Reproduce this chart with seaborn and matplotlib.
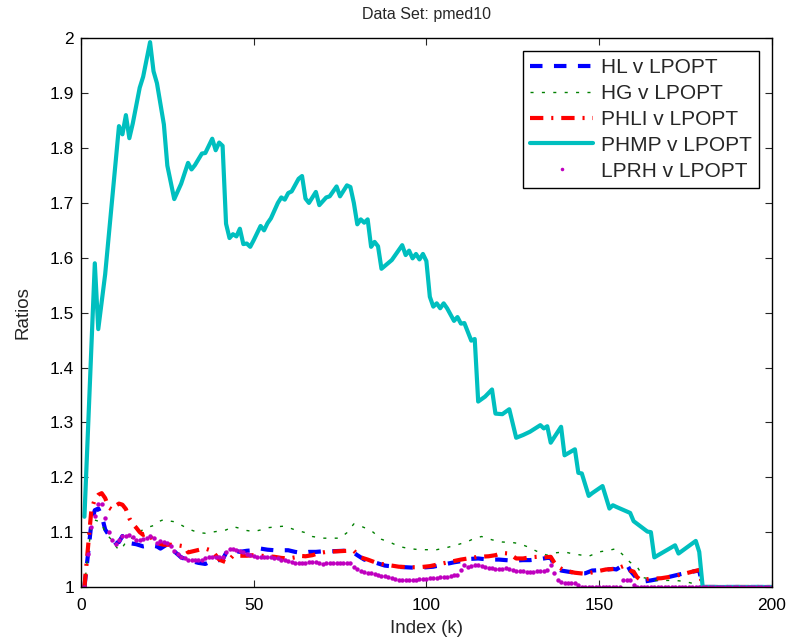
import numpy as np
import pandas as pd
import matplotlib
matplotlib.use("Agg")
import matplotlib.pyplot as plt
import seaborn as sns

# ---- series data (index k -> ratio) ----
hl_k = [1, 2, 3, 4, 5, 6, 7, 8, 9, 10, 11, 12, 13, 14, 16, 18, 20, 22, 23, 25, 27, 29, 31, 34, 36,
        38, 40, 41, 42, 44, 46, 48, 50, 52, 54, 56, 60, 62, 64, 66, 68, 70, 72, 76, 78, 80, 82, 85,
        88, 91, 94, 97, 100, 102, 105, 108, 110, 112, 115, 118, 121, 123, 125, 128, 130, 133, 135,
        136, 137, 139, 141, 144, 146, 148, 151, 154, 155, 157, 158, 159, 161, 163, 165, 170, 174,
        177, 179, 180, 200]
hl_r = [1.0, 1.058, 1.116, 1.14, 1.143, 1.13, 1.105, 1.095, 1.088, 1.08, 1.082, 1.093, 1.085, 1.08,
        1.078, 1.074, 1.076, 1.074, 1.070, 1.078, 1.065, 1.054, 1.049, 1.044, 1.042, 1.048, 1.049,
        1.05, 1.062, 1.067, 1.064, 1.066, 1.067, 1.070, 1.068, 1.067, 1.067, 1.064, 1.062, 1.064,
        1.064, 1.065, 1.065, 1.066, 1.067, 1.058, 1.050, 1.045, 1.039, 1.037, 1.036, 1.035, 1.036,
        1.037, 1.041, 1.045, 1.047, 1.051, 1.052, 1.050, 1.050, 1.049, 1.048, 1.049, 1.049, 1.051,
        1.053, 1.053, 1.040, 1.030, 1.028, 1.025, 1.025, 1.030, 1.031, 1.033, 1.032, 1.040, 1.042,
        1.030, 1.015, 1.010, 1.012, 1.018, 1.024, 1.028, 1.030, 1.0, 1.0]

hg_k = [1, 2, 3, 4, 5, 6, 7, 8, 9, 10, 11, 12, 13, 14, 15, 16, 17, 18, 20, 21, 22, 24, 26, 27, 29,
        31, 34, 36, 39, 42, 44, 46, 48, 50, 52, 54, 57, 59, 62, 65, 67, 70, 73, 75, 77, 79, 81, 84,
        87, 90, 92, 95, 98, 103, 106, 109, 112, 114, 116, 119, 122, 125, 127, 129, 132, 134, 135,
        137, 140, 142, 145, 147, 150, 153, 155, 157, 159, 161, 163, 166, 170, 172, 175, 178, 180, 200]
hg_r = [1.0, 1.06, 1.11, 1.122, 1.12, 1.115, 1.10, 1.092, 1.085, 1.075, 1.067, 1.072, 1.082, 1.088,
        1.09, 1.095, 1.10, 1.105, 1.110, 1.112, 1.118, 1.123, 1.12, 1.119, 1.113, 1.106, 1.099,
        1.098, 1.101, 1.104, 1.110, 1.107, 1.103, 1.101, 1.104, 1.108, 1.110, 1.111, 1.104, 1.099,
        1.092, 1.089, 1.089, 1.089, 1.099, 1.115, 1.111, 1.103, 1.087, 1.080, 1.074, 1.070, 1.068,
        1.068, 1.072, 1.077, 1.083, 1.089, 1.092, 1.086, 1.082, 1.081, 1.079, 1.074, 1.065, 1.060,
        1.058, 1.062, 1.064, 1.061, 1.058, 1.056, 1.064, 1.067, 1.070, 1.058, 1.045, 1.037, 1.017,
        1.012, 1.012, 1.012, 1.010, 1.005, 1.0, 1.0]

phli_k = [1, 2, 3, 4, 5, 6, 7, 8, 9, 10, 11, 12, 13, 14, 15, 16, 17, 18, 19, 20, 21, 22, 24, 26,
          28, 30, 31, 33, 35, 36, 38, 40, 42, 43, 44, 46, 48, 50, 52, 54, 56, 58, 60, 62, 63, 65,
          67, 69, 71, 74, 77, 79, 81, 83, 86, 89, 92, 95, 98, 101, 104, 107, 110, 112, 115, 118,
          120, 122, 124, 126, 128, 130, 132, 134, 136, 137, 138, 140, 143, 146, 149, 152, 155, 157,
          159, 160, 161, 162, 165, 168, 171, 174, 177, 179, 180, 200]
phli_r = [1.0, 1.07, 1.14, 1.16, 1.168, 1.171, 1.162, 1.145, 1.141, 1.148, 1.152, 1.150, 1.142,
          1.125, 1.115, 1.108, 1.10, 1.095, 1.097, 1.093, 1.085, 1.080, 1.077, 1.077, 1.076, 1.074,
          1.063, 1.066, 1.069, 1.07, 1.066, 1.05, 1.045, 1.05, 1.057, 1.057, 1.057, 1.058, 1.057,
          1.056, 1.055, 1.053, 1.052, 1.054, 1.057, 1.056, 1.058, 1.062, 1.064, 1.065, 1.066, 1.066,
          1.054, 1.050, 1.043, 1.040, 1.037, 1.036, 1.036, 1.038, 1.042, 1.046, 1.050, 1.052, 1.055,
          1.056, 1.058, 1.062, 1.061, 1.052, 1.052, 1.054, 1.055, 1.054, 1.055, 1.045, 1.037, 1.030,
          1.026, 1.024, 1.028, 1.032, 1.033, 1.038, 1.030, 1.028, 1.018, 1.013, 1.015, 1.016, 1.019,
          1.023, 1.028, 1.031, 1.0, 1.0]

phmp_k = [1, 4, 5, 7, 11, 12, 13, 14, 15, 17, 18, 20, 21, 22, 24, 25, 27, 29, 31, 32, 33, 35, 36,
          38, 39, 40, 41, 42, 43, 44, 45, 46, 47, 48, 49, 50, 52, 53, 54, 55, 57, 58, 59, 60, 61,
          63, 64, 65, 66, 68, 69, 71, 72, 74, 75, 77, 78, 79, 80, 81, 82, 83, 84, 85, 86, 87, 90,
          93, 94, 95, 96, 97, 98, 99, 100, 101, 102, 103, 104, 105, 106, 108, 109, 110, 111, 113,
          114, 115, 117, 119, 120, 122, 124, 126, 128, 130, 133, 134, 135, 136, 139, 140, 143, 144,
          145, 147, 148, 151, 153, 154, 155, 159, 160, 164, 165, 166, 172, 173, 178, 179, 180, 200]
phmp_r = [1.128, 1.59, 1.47, 1.57, 1.84, 1.825, 1.86, 1.818, 1.845, 1.91, 1.93, 1.993, 1.94, 1.918,
          1.843, 1.768, 1.707, 1.735, 1.773, 1.761, 1.769, 1.790, 1.791, 1.817, 1.796, 1.810, 1.804,
          1.662, 1.636, 1.643, 1.639, 1.653, 1.625, 1.626, 1.620, 1.632, 1.658, 1.650, 1.663, 1.672,
          1.700, 1.710, 1.706, 1.718, 1.721, 1.744, 1.749, 1.708, 1.700, 1.720, 1.696, 1.710, 1.712,
          1.730, 1.712, 1.732, 1.729, 1.700, 1.661, 1.670, 1.664, 1.670, 1.620, 1.629, 1.621, 1.580,
          1.596, 1.623, 1.605, 1.613, 1.599, 1.607, 1.597, 1.607, 1.594, 1.529, 1.511, 1.517, 1.508,
          1.517, 1.508, 1.485, 1.492, 1.480, 1.481, 1.449, 1.452, 1.338, 1.347, 1.360, 1.316, 1.315,
          1.324, 1.272, 1.277, 1.283, 1.295, 1.289, 1.293, 1.263, 1.292, 1.240, 1.251, 1.208, 1.207,
          1.166, 1.171, 1.184, 1.143, 1.149, 1.146, 1.135, 1.120, 1.101, 1.100, 1.054, 1.076, 1.061,
          1.084, 1.064, 1.0, 1.0]

# LPRH is shown as a marker at every index k = 1..200
lprh_r = [
    1.0, 1.06, 1.11, 1.13, 1.152, 1.152, 1.125, 1.10, 1.085, 1.078,
    1.085, 1.093, 1.093, 1.095, 1.092, 1.086, 1.085, 1.087, 1.089, 1.093,
    1.090, 1.081, 1.083, 1.082, 1.081, 1.074, 1.066, 1.060, 1.055, 1.052,
    1.050, 1.049, 1.049, 1.049, 1.050, 1.052, 1.054, 1.054, 1.054, 1.055,
    1.055, 1.063, 1.069, 1.070, 1.068, 1.066, 1.063, 1.060, 1.058, 1.057,
    1.055, 1.054, 1.054, 1.054, 1.054, 1.053, 1.052, 1.050, 1.049, 1.047,
    1.045, 1.043, 1.043, 1.044, 1.044, 1.045, 1.046, 1.046, 1.044, 1.042,
    1.043, 1.043, 1.043, 1.043, 1.043, 1.043, 1.043, 1.043, 1.036, 1.032,
    1.030, 1.028, 1.025, 1.025, 1.024, 1.022, 1.020, 1.020, 1.018, 1.016,
    1.014, 1.013, 1.013, 1.012, 1.012, 1.013, 1.013, 1.014, 1.014, 1.015,
    1.016, 1.016, 1.017, 1.018, 1.019, 1.019, 1.020, 1.021, 1.022, 1.031,
    1.040, 1.037, 1.039, 1.040, 1.040, 1.038, 1.036, 1.035, 1.034, 1.033,
    1.032, 1.033, 1.034, 1.032, 1.031, 1.030, 1.030, 1.029, 1.028, 1.028,
    1.028, 1.029, 1.030, 1.030, 1.031, 1.040, 1.025, 1.013, 1.010, 1.008,
    1.008, 1.007, 1.007, 1.003, 1.0, 1.0, 1.0, 1.0, 1.0, 1.0,
    1.0, 1.0, 1.0, 1.0, 1.0, 1.0, 1.012, 1.013, 1.013, 1.004,
    1.0, 1.0, 1.0, 1.0, 1.0, 1.0, 1.0, 1.0, 1.0, 1.0,
    1.0, 1.0, 1.0, 1.0, 1.0, 1.0, 1.0, 1.0, 1.0, 1.0,
    1.0, 1.0, 1.0, 1.0, 1.0, 1.0, 1.0, 1.0, 1.0, 1.0,
    1.0, 1.0, 1.0, 1.0, 1.0, 1.0, 1.0, 1.0, 1.0, 1.0,
]
lprh_k = list(range(1, len(lprh_r) + 1))

labels = ["HL v LPOPT", "HG v LPOPT", "PHLI v LPOPT", "PHMP v LPOPT", "LPRH v LPOPT"]
x_ticks = [0, 50, 100, 150, 200]
y_ticks = [1.0, 1.1, 1.2, 1.3, 1.4, 1.5, 1.6, 1.7, 1.8, 1.9, 2.0]
y_ticklabels = ["1", "1.1", "1.2", "1.3", "1.4", "1.5", "1.6", "1.7", "1.8", "1.9", "2"]

sns.set_style("ticks")
plt.rcParams["font.family"] = ["Liberation Sans", "DejaVu Sans"]
plt.rcParams["xtick.direction"] = "in"
plt.rcParams["ytick.direction"] = "in"

fig = plt.figure(figsize=(7.94, 6.44), dpi=100)
ax = fig.add_axes([0.102, 0.0885, 0.870, 0.852])

sns.lineplot(x=hl_k, y=hl_r, ax=ax, color="#0000ff", lw=3,
             linestyle=(0, (3.0, 2.75)), label=labels[0], sort=False)
sns.lineplot(x=hg_k, y=hg_r, ax=ax, color="#008000", lw=1.0,
             linestyle=(0, (2.2, 6.0)), label=labels[1], sort=False)
sns.lineplot(x=phli_k, y=phli_r, ax=ax, color="#ff0000", lw=3,
             linestyle=(0, (3.2, 1.9, 0.5, 1.9)), label=labels[2], sort=False)
sns.lineplot(x=phmp_k, y=phmp_r, ax=ax, color="#00bfbf", lw=3,
             label=labels[3], sort=False)
sns.lineplot(x=lprh_k, y=lprh_r, ax=ax, color="#bf00bf", linestyle="none",
             marker="o", markersize=3.2, markeredgewidth=0, label=labels[4], sort=False)

ax.set_xlim(0, 200)
ax.set_ylim(1, 2)
ax.set_xticks(x_ticks)
ax.set_yticks(y_ticks)
ax.set_yticklabels(y_ticklabels)
ax.tick_params(axis="both", which="both", top=True, right=True, length=5, width=0.8,
               labelsize=12.5, colors="#262626", labelcolor="black", pad=5)
ax.tick_params(axis="x", pad=8)
for side in ["top", "right", "bottom", "left"]:
    ax.spines[side].set_visible(True)
    ax.spines[side].set_color("black")
    ax.spines[side].set_linewidth(1.0)

ax.set_title("Data Set: pmed10", fontsize=11.5, pad=14)
ax.set_xlabel("Index (k)", fontsize=13.5, labelpad=5)
ax.set_ylabel("Ratios", fontsize=13.5, labelpad=13)

leg = ax.legend(loc="upper right", fontsize=15, frameon=True, fancybox=False,
                handlelength=3.0, handletextpad=0.4, borderpad=0.35, labelspacing=0.33,
                borderaxespad=0.6, numpoints=1, markerscale=0.8)
leg.get_frame().set_edgecolor("black")
leg.get_frame().set_linewidth(1.0)
leg.get_frame().set_alpha(1.0)

fig.savefig("out.png", dpi=100)
